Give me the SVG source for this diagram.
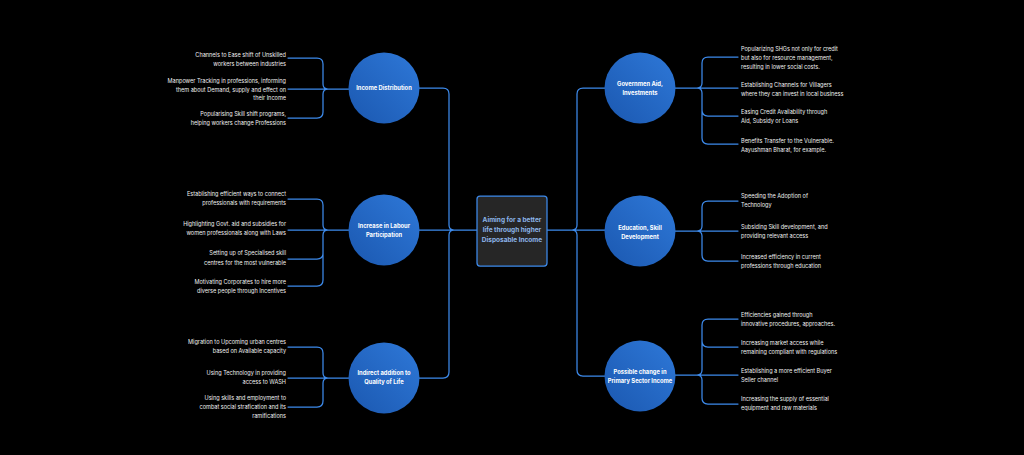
<svg xmlns="http://www.w3.org/2000/svg" width="1024" height="455" viewBox="0 0 1024 455">
<defs>
<linearGradient id="cg" x1="0" y1="1" x2="1" y2="0">
<stop offset="0" stop-color="#1b58b0"/>
<stop offset="1" stop-color="#2e78d8"/>
</linearGradient>
<style>
.c{fill:url(#cg)}
.ct{font-family:Inter,"Liberation Sans",sans-serif;font-size:5.8px;font-weight:700;fill:#ffffff;text-anchor:middle}
.it{font-family:Inter,"Liberation Sans",sans-serif;font-size:5.55px;fill:#f0f0f0}
.l{text-anchor:end}
.ln{fill:none;stroke:#3d8aeb;stroke-width:1.25;stroke-linecap:round;stroke-linejoin:round}
.bx{fill:#262626;stroke:#3d8aeb;stroke-width:1.25}
.bt{font-family:Inter,"Liberation Sans",sans-serif;font-size:6.5px;font-weight:700;fill:#8db6ea;text-anchor:middle}
</style>
</defs>
<rect width="1024" height="455" fill="#000000"/>
<g id="connectors" class="ln">
<path d="M288,58 H317 Q323,58 323,64 V84 Q323,89 328,89 M288,118 H317 Q323,118 323,112 V94 Q323,89 328,89 M288,89 H349"/>
<path d="M288,199 H317 Q323,199 323,205 V225 Q323,230 328,230 M288,286 H317 Q323,286 323,280 V235 Q323,230 328,230 M288,259 H317 Q323,259 323,253 M288,230 H349"/>
<path d="M288,347 H317 Q323,347 323,353 V373 Q323,378 328,378 M288,407 H317 Q323,407 323,401 V383 Q323,378 328,378 M288,378 H349"/>
<path d="M419,88 H443 Q449,88 449,94 V225 Q449,230 454,230 M419,378 H443 Q449,378 449,372 V235 Q449,230 454,230 M419,230 H477"/>
<path d="M547,230 H605 M605,88 H583 Q577,88 577,94 V225 Q577,230 572,230 M605,376 H583 Q577,376 577,370 V235 Q577,230 572,230"/>
<path d="M675,88 H738 M738,57 H708 Q702,57 702,63 V83 Q702,88 697,88 M738,144 H708 Q702,144 702,138 V93 Q702,88 697,88 M738,116 H708 Q702,116 702,110"/>
<path d="M675,231 H738 M738,201 H708 Q702,201 702,207 V226 Q702,231 697,231 M738,261 H708 Q702,261 702,255 V236 Q702,231 697,231"/>
<path d="M675,375 H738 M738,319 H708 Q702,319 702,325 V370 Q702,375 697,375 M738,347 H708 Q702,347 702,341 M738,404 H708 Q702,404 702,398 V380 Q702,375 697,375"/>
</g>
<g id="center">
<rect class="bx" x="477" y="196" width="70" height="70" rx="3"/>
<text class="bt" x="512" y="221.5">Aiming for a better</text>
<text class="bt" x="512" y="231.5">life through higher</text>
<text class="bt" x="512" y="241.5">Disposable Income</text>
</g>
<g id="income-distribution">
<circle class="c" cx="384" cy="88" r="35.5"/>
<text class="ct" x="384" y="90.2">Income Distribution</text>
<text class="it l" x="286" y="57">Channels to Ease shift of Unskilled</text>
<text class="it l" x="286" y="66">workers between industries</text>
<text class="it l" x="286" y="83">Manpower Tracking in professions, informing</text>
<text class="it l" x="286" y="91.5">them about Demand, supply and effect on</text>
<text class="it l" x="286" y="100">their Income</text>
<text class="it l" x="286" y="116">Popularising Skill shift programs,</text>
<text class="it l" x="286" y="125">helping workers change Professions</text>
</g>
<g id="labour-participation">
<circle class="c" cx="384" cy="230" r="35.5"/>
<text class="ct" x="384" y="228">Increase in Labour</text>
<text class="ct" x="384" y="237">Participation</text>
<text class="it l" x="286" y="196">Establishing efficient ways to connect</text>
<text class="it l" x="286" y="205">professionals with requirements</text>
<text class="it l" x="286" y="226">Highlighting Govt. aid and subsidies for</text>
<text class="it l" x="286" y="235">women professionals along with Laws</text>
<text class="it l" x="286" y="255">Setting up of Specialised skill</text>
<text class="it l" x="286" y="264.5">centres for the most vulnerable</text>
<text class="it l" x="286" y="284">Motivating Corporates to hire more</text>
<text class="it l" x="286" y="293">diverse people through Incentives</text>
</g>
<g id="quality-of-life">
<circle class="c" cx="384" cy="378" r="35.5"/>
<text class="ct" x="384" y="374.5">Indirect addition to</text>
<text class="ct" x="384" y="383.5">Quality of Life</text>
<text class="it l" x="286" y="344">Migration to Upcoming urban centres</text>
<text class="it l" x="286" y="353">based on Available capacity</text>
<text class="it l" x="286" y="375">Using Technology in providing</text>
<text class="it l" x="286" y="384">access to WASH</text>
<text class="it l" x="286" y="400">Using skills and employment to</text>
<text class="it l" x="286" y="409">combat social strafication and its</text>
<text class="it l" x="286" y="418">ramifications</text>
</g>
<g id="government-aid">
<circle class="c" cx="640" cy="88" r="35.5"/>
<text class="ct" x="640" y="86">Governmen Aid,</text>
<text class="ct" x="640" y="95">Investments</text>
<text class="it" x="741" y="51">Popularizing SHGs not only for credit</text>
<text class="it" x="741" y="60">but also for resource management,</text>
<text class="it" x="741" y="69">resulting in lower social costs.</text>
<text class="it" x="741" y="87">Establishing Channels for Villagers</text>
<text class="it" x="741" y="95.5">where they can invest in local business</text>
<text class="it" x="741" y="114">Easing Credit Availability through</text>
<text class="it" x="741" y="123">Aid, Subsidy or Loans</text>
<text class="it" x="741" y="143">Benefits Transfer to the Vulnerable.</text>
<text class="it" x="741" y="152">Aayushman Bharat, for example.</text>
</g>
<g id="education">
<circle class="c" cx="640" cy="231" r="35.5"/>
<text class="ct" x="640" y="229.5">Education, Skill</text>
<text class="ct" x="640" y="238.5">Development</text>
<text class="it" x="741" y="198">Speeding the Adoption of</text>
<text class="it" x="741" y="207">Technology</text>
<text class="it" x="741" y="229">Subsiding Skill development, and</text>
<text class="it" x="741" y="238">providing relevant access</text>
<text class="it" x="741" y="259">Increased efficiency in current</text>
<text class="it" x="741" y="268">professions through education</text>
</g>
<g id="primary-sector">
<circle class="c" cx="640" cy="376" r="35.5"/>
<text class="ct" x="640" y="374">Possible change in</text>
<text class="ct" x="640" y="383">Primary Sector Income</text>
<text class="it" x="741" y="317">Efficiencies gained through</text>
<text class="it" x="741" y="326">innovative procedures, approaches.</text>
<text class="it" x="741" y="345">Increasing market access while</text>
<text class="it" x="741" y="354">remaining compliant with regulations</text>
<text class="it" x="741" y="373">Establishing a more efficient Buyer</text>
<text class="it" x="741" y="382">Seller channel</text>
<text class="it" x="741" y="401">Increasing the supply of essential</text>
<text class="it" x="741" y="410">equipment and raw materials</text>
</g>
</svg>
